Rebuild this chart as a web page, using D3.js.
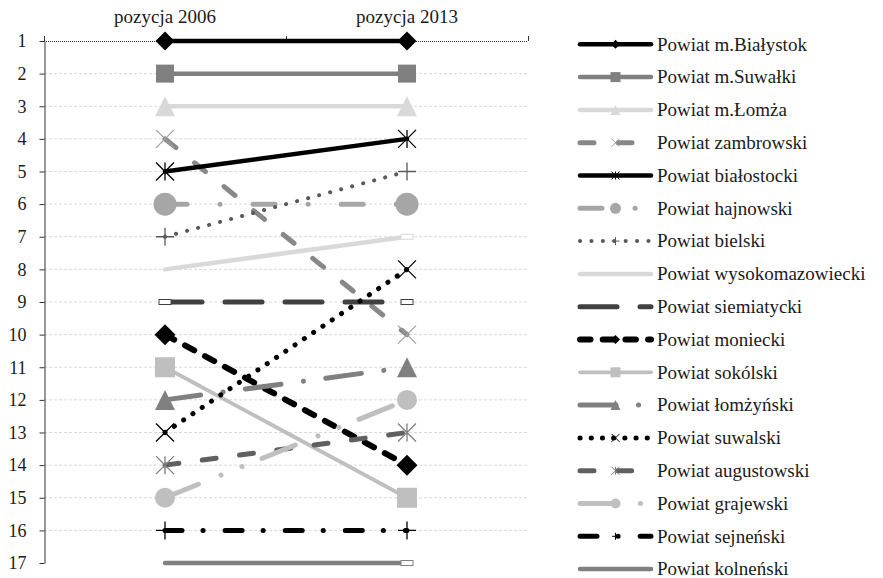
<!DOCTYPE html>
<html>
<head>
<meta charset="utf-8">
<script src="https://cdn.jsdelivr.net/npm/d3@7"></script>
<style>
  html, body { margin: 0; padding: 0; background: #fff; }
  svg { display: block; }
  svg text { font-family: "Liberation Serif", "DejaVu Serif", "Noto Serif", "Times New Roman", Times, serif; }
</style>
</head>
<body>
<svg id="chart" width="883" height="578"></svg>
<script>
// ---------------- DATA ----------------
const categories = ["pozycja 2006", "pozycja 2013"];
const seriesNames = [
  "Powiat m.Białystok", "Powiat m.Suwałki", "Powiat m.Łomża", "Powiat zambrowski",
  "Powiat białostocki", "Powiat hajnowski", "Powiat bielski", "Powiat wysokomazowiecki",
  "Powiat siemiatycki", "Powiat moniecki", "Powiat sokólski", "Powiat łomżyński",
  "Powiat suwalski", "Powiat augustowski", "Powiat grajewski", "Powiat sejneński",
  "Powiat kolneński"
];
const pos2006 = [1, 2, 3, 4, 5, 6, 7, 8, 9, 10, 11, 12, 13, 14, 15, 16, 17];
const pos2013 = [1, 2, 3, 10, 4, 6, 5, 7, 9, 14, 15, 11, 8, 13, 12, 16, 17];
const yTickLabels = [1, 2, 3, 4, 5, 6, 7, 8, 9, 10, 11, 12, 13, 14, 15, 16, 17];

// ---------------- STYLES ----------------
const styles = [
  {c: "#000000", w: 4.5, d: null, m: "diamond", s: 19, mc: "#000000", ls: 9},
  {c: "#808080", w: 4.5, d: null, m: "square", s: 18, mc: "#808080", ls: 10},
  {c: "#d9d9d9", w: 4.5, d: null, m: "triangle", s: 20, mc: "#d9d9d9", ls: 10},
  {c: "#888888", w: 5, d: "14,24", m: "x", s: 18, mc: "#a0a0a0", ls: 8},
  {c: "#000000", w: 4.5, d: null, m: "star", s: 18, mc: "#000000", ls: 8},
  {c: "#a6a6a6", w: 5, d: "22,33,0.1,33", m: "circle", s: 23, mc: "#a6a6a6", ls: 11},
  {c: "#595959", w: 4, d: "0.1,11.3", m: "plus", s: 18, mc: "#595959", ls: 8},
  {c: "#d9d9d9", w: 4.5, d: null, m: "dash", s: 12, mc: "#d9d9d9", ls: 0, ends: "end"},
  {c: "#404040", w: 5, d: "37,23", m: "dash", s: 12, mc: "#404040", ls: 0},
  {c: "#000000", w: 6, d: "10.5,12.2", m: "diamond", s: 21, mc: "#000000", ls: 9},
  {c: "#bfbfbf", w: 3.8, d: null, m: "square", s: 20, mc: "#bfbfbf", ls: 10},
  {c: "#808080", w: 5, d: "36,22.5,0.1,22.5", m: "triangle", s: 20, mc: "#808080", ls: 10},
  {c: "#000000", w: 5, d: "0.1,11.1", m: "x", s: 18, mc: "#000000", ls: 8},
  {c: "#606060", w: 5, d: "14,23.6", m: "star", s: 18, mc: "#7f7f7f", ls: 8},
  {c: "#bfbfbf", w: 5, d: "36,24.4,0.1,22.5,0.1,21.5", m: "circle", s: 20, mc: "#bfbfbf", ls: 10},
  {c: "#000000", w: 5, d: "17,21,0.1,22", m: "plus", s: 18, mc: "#000000", ls: 7},
  {c: "#808080", w: 4.5, d: null, m: "dash", s: 12, mc: "#808080", ls: 0, ends: "end"}
];

// ---------------- LAYOUT ----------------
const svg = d3.select("#chart");
const plotLeft = 44, plotRight = 528, plotTop = 41, plotBottom = 563;

const x = d3.scaleBand().domain(categories).range([plotLeft, plotRight]).padding(0);
const cx = c => x(c) + x.bandwidth() / 2;
const y = d3.scaleLinear().domain([1, 17]).range([plotTop, plotBottom]);

// gridlines
svg.append("g").selectAll("line")
  .data(yTickLabels.filter(v => v > 1 && v < 17))
  .join("line")
  .attr("x1", plotLeft).attr("x2", plotRight)
  .attr("y1", d => y(d)).attr("y2", d => y(d))
  .attr("stroke", "#d9d9d9").attr("stroke-width", 1)
  .attr("stroke-dasharray", "3,2");

// top category axis
svg.append("line")
  .attr("x1", plotLeft).attr("x2", plotRight)
  .attr("y1", y(1) + 0.5).attr("y2", y(1) + 0.5)
  .attr("stroke", "#333").attr("stroke-width", 1).attr("stroke-dasharray", "1,1");
const bounds = [x(categories[0]), x(categories[1]), x(categories[1]) + x.bandwidth()];
svg.append("g").selectAll("line").data(bounds).join("line")
  .attr("x1", d => d + 0.5).attr("x2", d => d + 0.5)
  .attr("y1", y(1) - 5).attr("y2", y(1))
  .attr("stroke", "#333").attr("stroke-width", 1);

const xAxis = d3.axisTop(x).tickSize(0).tickPadding(0);
const gx = svg.append("g").attr("transform", `translate(0,23)`).call(xAxis);
gx.attr("font-family", null);
gx.select(".domain").remove();
gx.selectAll("text").attr("font-size", 19).attr("fill", "#1a1a1a").attr("dy", "0");

// left value axis
const yAxis = d3.axisLeft(y).tickValues(yTickLabels).tickFormat(d3.format("d"))
  .tickSize(5).tickSizeOuter(0).tickPadding(13);
const gy = svg.append("g").attr("transform", `translate(${plotLeft + 0.5},0)`).call(yAxis);
gy.attr("font-family", null);
gy.select(".domain").attr("stroke", "#333");
gy.selectAll(".tick line").attr("stroke", "#333");
gy.selectAll("text").attr("font-size", 18).attr("fill", "#1a1a1a");

// ---------------- MARKERS ----------------
function drawMarker(g, type, px, py, s, color, thin) {
  const h = s / 2;
  const sw = thin || 1.3;
  switch (type) {
    case "diamond":
      g.append("path").attr("d", `M${px},${py - h}L${px + h},${py}L${px},${py + h}L${px - h},${py}Z`)
        .attr("fill", color); break;
    case "square":
      g.append("rect").attr("x", px - h).attr("y", py - h).attr("width", s).attr("height", s)
        .attr("fill", color); break;
    case "triangle":
      g.append("path").attr("d", `M${px},${py - h}L${px + h},${py + h}L${px - h},${py + h}Z`)
        .attr("fill", color); break;
    case "circle":
      g.append("circle").attr("cx", px).attr("cy", py).attr("r", h).attr("fill", color); break;
    case "x":
      g.append("path").attr("d", `M${px - h},${py - h}L${px + h},${py + h}M${px - h},${py + h}L${px + h},${py - h}`)
        .attr("stroke", color).attr("stroke-width", sw).attr("fill", "none"); break;
    case "star":
      g.append("path").attr("d", `M${px - h},${py - h}L${px + h},${py + h}M${px - h},${py + h}L${px + h},${py - h}M${px},${py - h}L${px},${py + h}`)
        .attr("stroke", color).attr("stroke-width", sw).attr("fill", "none"); break;
    case "plus":
      g.append("path").attr("d", `M${px - h},${py}L${px + h},${py}M${px},${py - h}L${px},${py + h}`)
        .attr("stroke", color).attr("stroke-width", sw).attr("fill", "none"); break;
    case "dash":
      g.append("rect").attr("x", px - h).attr("y", py - 2.5).attr("width", s).attr("height", 5)
        .attr("fill", "#fff").attr("stroke", color).attr("stroke-width", 1); break;
  }
}

// ---------------- SERIES ----------------
const line = d3.line().x(d => cx(d.cat)).y(d => y(d.val));
const gSeries = svg.append("g");
seriesNames.forEach((name, i) => {
  const st = styles[i];
  const pts = [{cat: categories[0], val: pos2006[i]}, {cat: categories[1], val: pos2013[i]}];
  const g = gSeries.append("g");
  g.append("path").datum(pts).attr("d", line)
    .attr("fill", "none").attr("stroke", st.c).attr("stroke-width", st.w)
    .attr("stroke-linecap", "round")
    .attr("stroke-dasharray", st.d);
  pts.forEach((p, k) => {
    if (st.ends === "end" && k === 0) return;
    drawMarker(g, st.m, cx(p.cat), y(p.val), st.s, st.mc);
  });
});

// ---------------- LEGEND ----------------
const legX1 = 580, legX2 = 651, legTextX = 657, legY0 = 44.3, legStep = 32.8;
const gl = svg.append("g");
seriesNames.forEach((name, i) => {
  const st = styles[i];
  const ly = legY0 + i * legStep;
  gl.append("line").attr("x1", legX1).attr("x2", legX2).attr("y1", ly).attr("y2", ly)
    .attr("stroke", st.c).attr("stroke-width", st.w).attr("stroke-linecap", "round")
    .attr("stroke-dasharray", st.d);
  if (st.ls > 0) drawMarker(gl, st.m, (legX1 + legX2) / 2, ly, st.ls, st.mc, 1);
  gl.append("text").attr("x", legTextX).attr("y", ly).attr("dy", "0.33em")
    .attr("font-size", 19).attr("fill", "#1a1a1a")
    .text(name);
});
</script>
</body>
</html>
